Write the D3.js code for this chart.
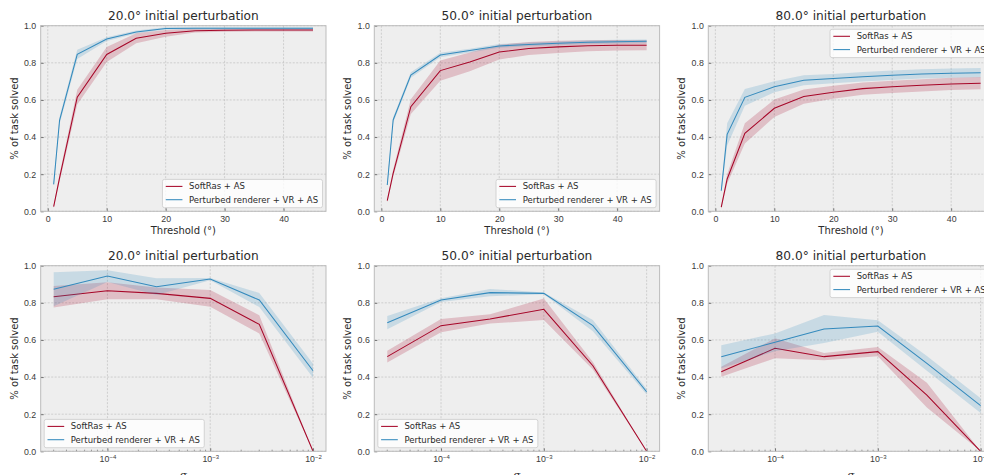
<!DOCTYPE html>
<html lang="en">
<head>
<meta charset="UTF-8">
<title>Task solved vs threshold and sigma</title>
<script src="https://d3js.org/d3.v7.min.js"></script>
<style>
    body { margin: 0; background: #fff; }
    svg { display: block; font-family: "DejaVu Sans", sans-serif; }
    .tick text { font-size: 8.8px; fill: #3a3a3a; }
    .tick line { stroke: #555; stroke-width: 0.8; }
    .title { font-size: 12.2px; fill: #2a2a2a; }
    .axlabel { font-size: 10px; fill: #2a2a2a; }
    .legend text { font-size: 8.5px; fill: #2a2a2a; }
</style>
</head>
<body>
<svg id="chart" width="984" height="475"></svg>
<script>
    // x values
    var thresholds = [1, 2, 5, 10, 15, 20, 25, 30, 35, 40, 45];
    var sigmas = [3e-5, 1e-4, 3e-4, 1e-3, 3e-3, 1e-2];
    var perturbations = ["20.0", "50.0", "80.0"];
    var seriesNames = ["SoftRas + AS", "Perturbed renderer + VR + AS"];
    var yTicks = [0, 0.2, 0.4, 0.6, 0.8, 1.0];
    var thrTicks = [0, 10, 20, 30, 40];
    var sigmaTicks = [1e-4, 1e-3, 1e-2];

    // top row: % solved vs threshold (mean and band half-width)
    var thrSoft20 = [0.025, 0.18, 0.615, 0.845, 0.932, 0.959, 0.973, 0.976, 0.977, 0.977, 0.977];
    var thrSoft20Err = [0.008, 0.02, 0.04, 0.04, 0.027, 0.018, 0.01, 0.008, 0.008, 0.008, 0.008];
    var thrPert20 = [0.145, 0.49, 0.846, 0.928, 0.966, 0.985, 0.986, 0.986, 0.986, 0.986, 0.986];
    var thrPert20Err = [0.01, 0.02, 0.025, 0.01, 0.008, 0.006, 0.006, 0.006, 0.006, 0.006, 0.006];

    var thrSoft50 = [0.057, 0.205, 0.564, 0.758, 0.805, 0.858, 0.877, 0.886, 0.892, 0.895, 0.895];
    var thrSoft50Err = [0.01, 0.02, 0.04, 0.055, 0.05, 0.04, 0.035, 0.033, 0.03, 0.028, 0.027];
    var thrPert50 = [0.142, 0.492, 0.734, 0.842, 0.866, 0.891, 0.899, 0.905, 0.911, 0.914, 0.916];
    var thrPert50Err = [0.01, 0.015, 0.015, 0.012, 0.01, 0.01, 0.01, 0.01, 0.01, 0.01, 0.01];

    var thrSoft80 = [0.022, 0.174, 0.42, 0.555, 0.618, 0.641, 0.661, 0.671, 0.679, 0.686, 0.69];
    var thrSoft80Err = [0.01, 0.025, 0.055, 0.047, 0.038, 0.035, 0.033, 0.033, 0.033, 0.033, 0.033];
    var thrPert80 = [0.111, 0.415, 0.614, 0.671, 0.706, 0.715, 0.725, 0.733, 0.74, 0.744, 0.747];
    var thrPert80Err = [0.015, 0.06, 0.045, 0.03, 0.027, 0.025, 0.025, 0.025, 0.025, 0.025, 0.025];

    // bottom row: % solved vs sigma
    var sigSoft20 = [0.833, 0.865, 0.851, 0.824, 0.684, 0.0];
    var sigSoft20Err = [0.058, 0.046, 0.032, 0.045, 0.049, 0.0];
    var sigPert20 = [0.873, 0.944, 0.887, 0.928, 0.815, 0.434];
    var sigPert20Err = [0.092, 0.032, 0.045, 0.006, 0.038, 0.038];

    var sigSoft50 = [0.51, 0.677, 0.713, 0.765, 0.461, 0.0];
    var sigSoft50Err = [0.032, 0.036, 0.025, 0.058, 0.02, 0.0];
    var sigPert50 = [0.693, 0.815, 0.855, 0.851, 0.677, 0.321];
    var sigPert50Err = [0.036, 0.01, 0.02, 0.005, 0.03, 0.015];

    var sigSoft80 = [0.429, 0.555, 0.51, 0.537, 0.303, 0.0];
    var sigSoft80Err = [0.027, 0.054, 0.02, 0.025, 0.067, 0.0];
    var sigPert80 = [0.51, 0.587, 0.659, 0.675, 0.474, 0.246];
    var sigPert80Err = [0.062, 0.048, 0.076, 0.031, 0.04, 0.04];

    var colors = ["#A60628", "#348ABD"];

    var colLeft = [40.7, 374.3, 708.3],
        rowTop = [25.7, 265.7],
        pw = 285.3,
        ph = 185.6;

    var panels = [
        {row: 0, col: 0, xs: thresholds, soft: thrSoft20, softErr: thrSoft20Err, pert: thrPert20, pertErr: thrPert20Err, legend: "lower right"},
        {row: 0, col: 1, xs: thresholds, soft: thrSoft50, softErr: thrSoft50Err, pert: thrPert50, pertErr: thrPert50Err, legend: "lower right"},
        {row: 0, col: 2, xs: thresholds, soft: thrSoft80, softErr: thrSoft80Err, pert: thrPert80, pertErr: thrPert80Err, legend: "upper right"},
        {row: 1, col: 0, xs: sigmas, soft: sigSoft20, softErr: sigSoft20Err, pert: sigPert20, pertErr: sigPert20Err, legend: "lower left"},
        {row: 1, col: 1, xs: sigmas, soft: sigSoft50, softErr: sigSoft50Err, pert: sigPert50, pertErr: sigPert50Err, legend: "lower left"},
        {row: 1, col: 2, xs: sigmas, soft: sigSoft80, softErr: sigSoft80Err, pert: sigPert80, pertErr: sigPert80Err, legend: "upper right"}
    ];

    var svg = d3.select("#chart");

    function drawPanel(p, i) {
        var g = svg.append("g")
            .attr("transform", "translate(" + colLeft[p.col] + "," + rowTop[p.row] + ")");

        var x;
        if (p.row === 0) {
            x = d3.scaleLinear().domain([-1.2, 47.2]).range([0, pw]);
        } else {
            var lo = Math.log10(d3.min(sigmas)), hi = Math.log10(d3.max(sigmas)), pad = (hi - lo) * 0.05;
            x = d3.scaleLog().domain([Math.pow(10, lo - pad), Math.pow(10, hi + pad)]).range([0, pw]);
        }
        var y = d3.scaleLinear().domain([0, 1]).range([ph, 0]);

        g.append("rect").attr("width", pw).attr("height", ph).attr("fill", "#eeeeee");

        // grid
        var xGrid = p.row === 0 ? thrTicks : sigmaTicks;
        g.selectAll(".vgrid").data(xGrid).enter().append("line")
            .attr("x1", function(d) { return x(d); }).attr("x2", function(d) { return x(d); })
            .attr("y1", 0).attr("y2", ph)
            .attr("stroke", "#b8b8b8").attr("stroke-width", 0.6).attr("stroke-dasharray", "2,1.5");
        g.selectAll(".hgrid").data(yTicks).enter().append("line")
            .attr("x1", 0).attr("x2", pw)
            .attr("y1", function(d) { return y(d); }).attr("y2", function(d) { return y(d); })
            .attr("stroke", "#b8b8b8").attr("stroke-width", 0.6).attr("stroke-dasharray", "2,1.5");

        // series
        var clipId = "clip" + i;
        g.append("clipPath").attr("id", clipId).append("rect").attr("width", pw).attr("height", ph);
        var plot = g.append("g").attr("clip-path", "url(#" + clipId + ")");

        var series = [
            {m: p.soft, e: p.softErr, c: colors[0]},
            {m: p.pert, e: p.pertErr, c: colors[1]}
        ];
        series.forEach(function(s) {
            var area = d3.area()
                .x(function(d, j) { return x(p.xs[j]); })
                .y0(function(d, j) { return y(d - s.e[j]); })
                .y1(function(d, j) { return y(d + s.e[j]); });
            var line = d3.line()
                .x(function(d, j) { return x(p.xs[j]); })
                .y(function(d) { return y(d); });
            plot.append("path").datum(s.m).attr("d", area).attr("fill", s.c).attr("fill-opacity", 0.2);
            plot.append("path").datum(s.m).attr("d", line).attr("fill", "none")
                .attr("stroke", s.c).attr("stroke-width", 1.05);
        });

        // axes
        var xAxis = d3.axisBottom(x).tickSizeInner(-3).tickSizeOuter(0).tickPadding(4);
        if (p.row === 0) xAxis.tickValues(thrTicks).tickFormat(d3.format("d"));
        else xAxis.tickValues(sigmaTicks);
        var xg = g.append("g").attr("transform", "translate(0," + ph + ")").call(xAxis);
        xg.select(".domain").remove();
        if (p.row === 1) {
            xg.selectAll(".tick text").each(function(d) {
                var t = d3.select(this);
                t.text("10");
                t.append("tspan").attr("dy", "-0.45em").attr("font-size", "6px")
                    .text("\u2212" + Math.round(-Math.log10(d)));
            });
            // minor ticks on the log axis
            var minors = [];
            [1e-5, 1e-4, 1e-3].forEach(function(dec) {
                for (var k = 2; k <= 9; k++) {
                    var v = k * dec;
                    if (v > x.domain()[0] && v < x.domain()[1]) minors.push(v);
                }
            });
            g.selectAll(".minor").data(minors).enter().append("line")
                .attr("x1", function(d) { return x(d); }).attr("x2", function(d) { return x(d); })
                .attr("y1", ph).attr("y2", ph - 1.6)
                .attr("stroke", "#555").attr("stroke-width", 0.6);
        }

        var yg = g.append("g").call(d3.axisLeft(y).tickValues(yTicks).tickFormat(d3.format(".1f"))
            .tickSizeInner(-3).tickSizeOuter(0).tickPadding(4.5));
        yg.select(".domain").remove();

        g.append("rect").attr("width", pw).attr("height", ph)
            .attr("fill", "none").attr("stroke", "#bcbcbc").attr("stroke-width", 1);

        // labels
        g.append("text").attr("class", "title")
            .attr("x", pw / 2).attr("y", -9.7).attr("dy", "0.35em").attr("text-anchor", "middle")
            .text(perturbations[p.col] + "\u00b0 initial perturbation");

        g.append("text").attr("class", "axlabel")
            .attr("transform", "translate(-26.7," + (ph / 2) + ") rotate(-90)")
            .attr("dy", "0.35em").attr("text-anchor", "middle")
            .text("% of task solved");

        if (p.row === 0) {
            g.append("text").attr("class", "axlabel")
                .attr("x", pw / 2).attr("y", ph + 19.4).attr("dy", "0.35em").attr("text-anchor", "middle")
                .text("Threshold (\u00b0)");
        } else {
            g.append("text").attr("class", "axlabel")
                .attr("x", pw / 2).attr("y", ph + 26.7).attr("text-anchor", "middle")
                .style("font-family", "'DejaVu Serif', serif").style("font-style", "italic")
                .text("\u03c3");
        }

        drawLegend(g, p.legend);
    }

    function drawLegend(g, loc) {
        var lg = g.append("g").attr("class", "legend");
        var box = lg.append("rect").attr("rx", 2).attr("ry", 2)
            .attr("fill", "#ffffff").attr("fill-opacity", 0.8)
            .attr("stroke", "#cccccc").attr("stroke-width", 0.8);
        var tw = 0;
        seriesNames.forEach(function(name, k) {
            var yy = 7 + k * 13.3;
            lg.append("line").attr("x1", 3.3).attr("x2", 20).attr("y1", yy).attr("y2", yy)
                .attr("stroke", colors[k]).attr("stroke-width", 1.05);
            var t = lg.append("text").attr("x", 26.6).attr("y", yy).attr("dy", "0.35em").text(name);
            tw = Math.max(tw, t.node().getComputedTextLength());
        });
        var bw = 26.6 + tw + 4.4, bh = 28.3;
        box.attr("width", bw).attr("height", bh);
        var bx = loc.indexOf("right") >= 0 ? pw - 3.5 - bw : 3.5;
        var by = loc.indexOf("upper") >= 0 ? 3.6 : ph - 3.6 - bh;
        lg.attr("transform", "translate(" + bx + "," + by + ")");
    }

    panels.forEach(drawPanel);
</script>
</body>
</html>
